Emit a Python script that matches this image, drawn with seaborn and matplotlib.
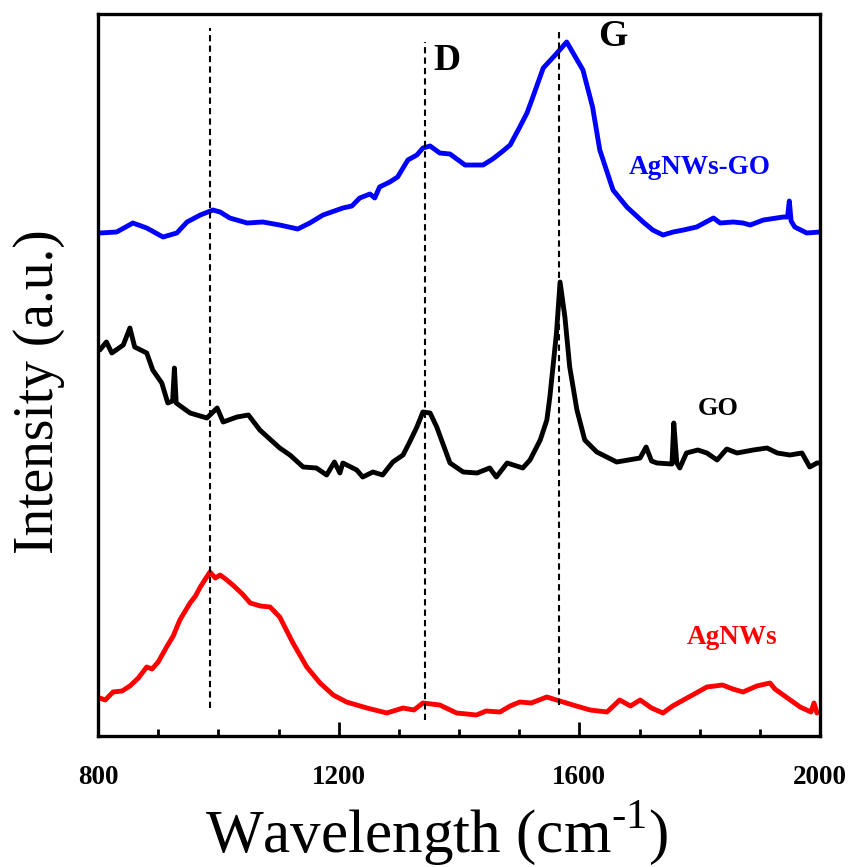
import matplotlib
matplotlib.use("Agg")
import matplotlib.pyplot as plt
from matplotlib.ticker import MultipleLocator
import seaborn as sns
import pandas as pd

# ---- data (arbitrary intensity units) ----
agnws_x = [803, 812, 825, 840, 853, 867, 881, 890, 900, 914, 925, 936, 953, 962, 970, 986, 995,
           1003, 1012, 1024, 1040, 1053, 1070, 1086, 1102, 1124, 1147, 1169, 1191, 1213, 1247,
           1280, 1307, 1325, 1340, 1368, 1396, 1429, 1445, 1468, 1485, 1501, 1520, 1546, 1573,
           1595, 1618, 1646, 1667, 1685, 1701, 1720, 1739, 1755, 1773, 1812, 1838, 1855, 1872,
           1895, 1917, 1925, 1939, 1967, 1985, 1990, 1995]
agnws_y = [38, 36, 44, 45, 50, 58, 69, 67, 74, 89, 100, 116, 133, 140, 149, 164, 158,
           161, 157, 151, 142, 133, 130, 129, 119, 93, 69, 53, 41, 34, 28,
           23, 28, 26, 33, 31, 23, 21, 25, 24, 30, 34, 33, 39, 34,
           30, 26, 24, 36, 30, 36, 28, 23, 30, 36, 49, 51, 47, 44,
           50, 53, 47, 41, 29, 24, 33, 23]

go_x = [803, 814, 823, 842, 853, 861, 881, 891, 906, 916, 924, 927, 930, 953, 981, 998, 1008,
        1031, 1050, 1069, 1102, 1119, 1141, 1163, 1180, 1193, 1202, 1207, 1230, 1240, 1257,
        1273, 1290, 1307, 1318, 1330, 1340, 1352, 1363, 1374, 1385, 1407, 1430, 1451, 1462,
        1480, 1506, 1518, 1535, 1546, 1551, 1562, 1568, 1576, 1584, 1596, 1609, 1629, 1662,
        1701, 1711, 1720, 1729, 1754, 1757, 1762, 1767, 1778, 1797, 1812, 1829, 1845, 1862,
        1889, 1912, 1929, 1950, 1970, 1983, 1995, 2000]
go_y = [386, 394, 383, 391, 408, 389, 383, 366, 353, 333, 335, 368, 333, 323, 318, 328, 314,
        319, 321, 306, 288, 281, 269, 268, 261, 274, 263, 273, 266, 259, 264,
        261, 274, 281, 294, 309, 324, 323, 309, 291, 273, 264, 263, 268, 259,
        273, 268, 276, 296, 316, 339, 403, 454, 419, 369, 326, 296, 284, 274,
        278, 289, 275, 273, 272, 313, 273, 268, 283, 286, 283, 276, 287, 283,
        286, 288, 283, 281, 283, 269, 273, 273]

hyb_x = [803, 831, 858, 881, 908, 931, 948, 970, 991, 1003, 1019, 1048, 1074, 1102, 1132,
         1152, 1174, 1207, 1222, 1235, 1252, 1260, 1268, 1285, 1298, 1315, 1330, 1340, 1352,
         1368, 1385, 1410, 1440, 1456, 1471, 1485, 1501, 1513, 1521, 1540, 1560, 1579, 1606,
         1622, 1634, 1656, 1679, 1706, 1722, 1739, 1756, 1773, 1795, 1823, 1834, 1856, 1872,
         1884, 1906, 1928, 1939, 1946, 1949, 1952, 1958, 1978, 2000]
hyb_y = [503, 504, 513, 508, 499, 503, 514, 521, 526, 524, 518, 513, 514, 511, 507,
         513, 521, 528, 530, 538, 542, 538, 549, 554, 559, 576, 581, 588, 590,
         583, 582, 571, 571, 577, 584, 591, 609, 623, 636, 668, 681, 694, 666,
         629, 586, 546, 529, 514, 506, 501, 504, 506, 509, 518, 513, 514, 513,
         511, 516, 518, 519, 519, 535, 515, 509, 503, 504]

peak_positions = [986, 1343, 1566]
peak_line_top = [708, 694, 706]
peak_line_bottom = [28, 16, 31]

peak_labels = ["D", "G"]
series_labels = ["AgNWs-GO", "GO", "AgNWs"]
x_ticks = [800, 1200, 1600, 2000]

# ---- build a long table ----
frames = []
for name, xs, ys in [("AgNWs", agnws_x, agnws_y), ("GO", go_x, go_y), ("AgNWs-GO", hyb_x, hyb_y)]:
    frames.append(pd.DataFrame({"wavenumber": xs, "intensity": ys, "sample": name}))
df = pd.concat(frames, ignore_index=True)

sns.set_style("ticks")
plt.rcParams["font.family"] = ["Liberation Serif", "DejaVu Serif"]
plt.rcParams["mathtext.fontset"] = "custom"
plt.rcParams["mathtext.rm"] = "Liberation Serif"
plt.rcParams["text.color"] = "black"
plt.rcParams["axes.labelcolor"] = "black"
plt.rcParams["xtick.color"] = "black"
plt.rcParams["ytick.color"] = "black"

fig = plt.figure(figsize=(8.51, 8.67), dpi=100)
ax = fig.add_axes([98 / 851, 1 - 736 / 867, 722 / 851, 722 / 867])

palette = {"AgNWs": "#ff0000", "GO": "#000000", "AgNWs-GO": "#0000ff"}
sns.lineplot(data=df, x="wavenumber", y="intensity", hue="sample", palette=palette,
             linewidth=3.5, legend=False, ax=ax, estimator=None, sort=True)

for xp, yt, yb in zip(peak_positions, peak_line_top, peak_line_bottom):
    ax.plot([xp, xp], [yb, yt], color="black", linestyle=(0, (3, 2)), linewidth=1.5)

ax.set_xlim(800, 2000)
ax.set_ylim(0, 722)
ax.set_xticks(x_ticks)
ax.xaxis.set_minor_locator(MultipleLocator(100))
ax.set_yticks([])
ax.tick_params(axis="x", which="major", direction="in", length=10, width=2,
               labelsize=19.5, pad=21, colors="black")
ax.tick_params(axis="x", which="minor", direction="in", length=5, width=2, colors="black")
for lab in ax.get_xticklabels():
    lab.set_fontweight("bold")
for sp in ax.spines.values():
    sp.set_linewidth(2.4)
    sp.set_color("black")

ax.set_xlabel(r"Wavelength (cm$^{\text{-1}}$)", fontsize=44, color="black")
ax.xaxis.set_label_coords((437 - 98) / 722, (736 - 867) / 722)
ax.xaxis.label.set_va("bottom")
ax.set_ylabel("Intensity (a.u.)", fontsize=40, color="black")
ax.yaxis.set_label_coords((65 - 98) / 722, (736 - 392) / 722)

ax.text(1380, 676, peak_labels[0], fontsize=27, fontweight="bold", ha="center", va="center")
ax.text(1656, 699, peak_labels[1], fontsize=27, fontweight="bold", ha="center", va="center")
ax.text(1800, 569, series_labels[0], fontsize=19.5, fontweight="bold", color="#0000ff",
        ha="center", va="center")
ax.text(1830, 328, series_labels[1], fontsize=19, fontweight="bold", color="black",
        ha="center", va="center")
ax.text(1854, 99, series_labels[2], fontsize=19.5, fontweight="bold", color="#ff0000",
        ha="center", va="center")

fig.savefig("out.png", dpi=100)
